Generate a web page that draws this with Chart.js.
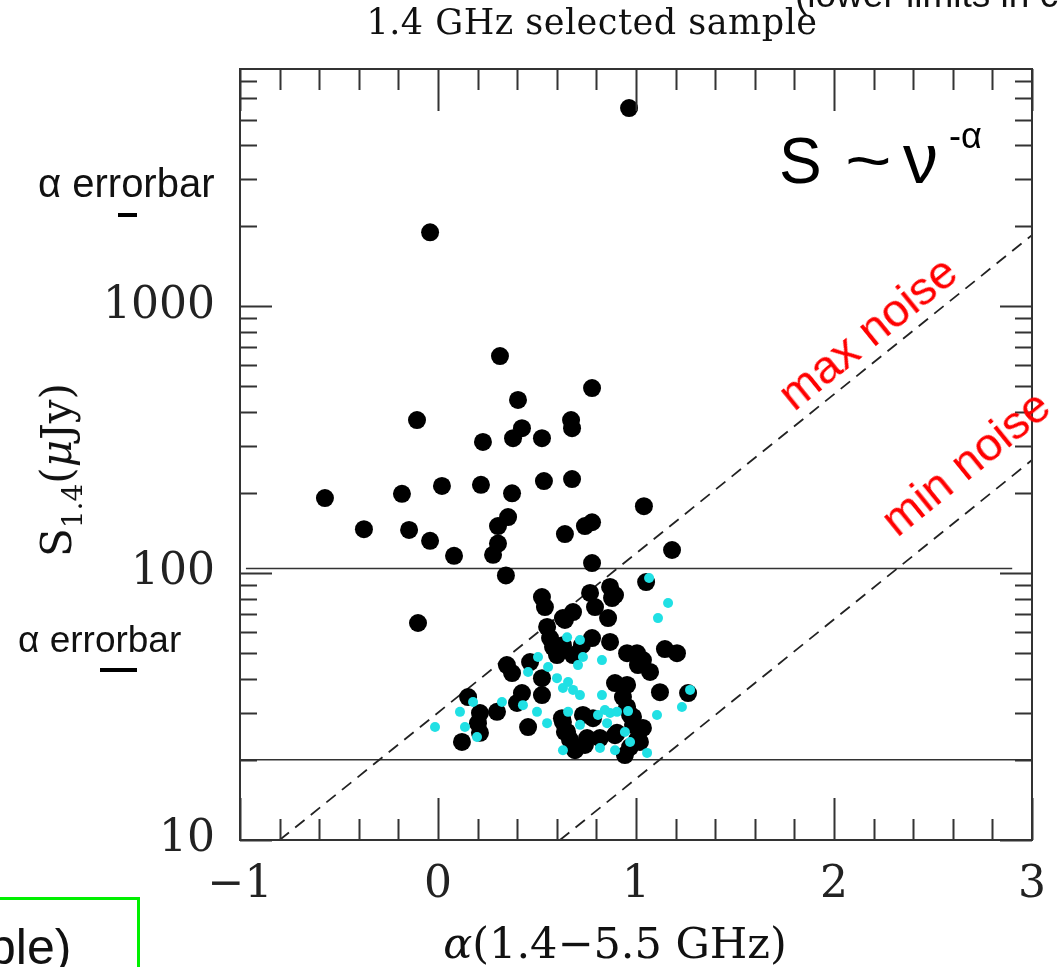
<!DOCTYPE html>
<html><head><meta charset="utf-8">
<script src="https://cdn.jsdelivr.net/npm/chart.js@4/dist/chart.umd.min.js"></script>
<style>
html,body{margin:0;padding:0;background:#fff;overflow:hidden;}
#wrap{position:relative;width:1058px;height:967px;overflow:hidden;}
#c{position:absolute;left:0;top:0;}
.t{position:absolute;white-space:nowrap;line-height:1;color:#111;}
.serif{font-family:"DejaVu Serif",serif;}
.sans{font-family:"Liberation Sans",Arial,sans-serif;}
.bar{position:absolute;background:#000;}
</style></head><body>
<div id="wrap">
<canvas id="c" width="1058" height="967"></canvas>
<div class="t serif" style="left:592px;top:22px;transform:translate(-50%,-50%);font-size:35px;letter-spacing:0.5px;">1.4 GHz selected sample</div>
<div class="t sans" style="left:795px;top:-24px;font-size:37px;">(lower limits in cyan)</div>
<div class="t sans" style="left:38px;top:163px;font-size:40px;">α errorbar</div>
<div class="bar" style="left:118px;top:213px;width:19px;height:4px;"></div>
<div class="t sans" style="left:18px;top:621px;font-size:37px;">α errorbar</div>
<div class="bar" style="left:100px;top:668px;width:37px;height:4px;"></div>
<div class="t sans" style="left:779px;top:129px;font-size:64px;color:#000;">S</div>
<div class="t sans" style="left:845px;top:129px;font-size:64px;color:#000;transform:scaleX(1.25);transform-origin:left;">~</div>
<div class="t sans" style="left:903px;top:124px;font-size:70px;color:#000;">ν</div>
<div class="t sans" style="left:949px;top:118px;font-size:36px;color:#000;">-α</div>
<div class="t sans" style="left:867px;top:332px;transform:translate(-50%,-50%) rotate(-39deg);font-size:47px;color:#ff0000;">max noise</div>
<div class="t sans" style="left:965px;top:462px;transform:translate(-50%,-50%) rotate(-39deg);font-size:47px;color:#ff0000;">min noise</div>
<div class="t serif" style="left:57px;top:470px;transform:translate(-50%,-50%) rotate(-90deg);font-size:42px;">S<span style="font-size:28px;position:relative;top:11px;">1.4</span>(<i>μ</i>Jy)</div>
<div class="t serif" style="left:615px;top:943px;transform:translate(-50%,-50%);font-size:43px;"><i>α</i>(1.4−5.5 GHz)</div>
<div style="position:absolute;left:-6px;top:897px;width:140px;height:120px;border:3px solid #00f000;"></div>
<div class="t sans" style="left:-12px;top:922px;font-size:50px;color:#111;">ple)</div>
</div>
<script>
// ---- data ----
const blackAlpha = [0.965,-0.040,0.313,0.778,0.404,-0.106,0.672,0.677,0.424,0.379,0.227,0.525,-0.571,-0.182,0.020,0.217,0.374,0.535,0.677,1.040,
  -0.374,-0.146,-0.040,0.081,0.354,0.303,0.303,0.278,0.641,0.742,0.778,1.182,0.778,0.343,1.051,0.525,0.540,0.768,0.869,0.793,
  0.879,-0.101,0.682,0.641,0.551,0.566,0.581,0.601,0.859,0.778,0.869,0.955,1.005,1.035,1.010,1.071,1.146,1.207,1.121,1.263,
  0.894,0.955,0.934,0.955,0.970,0.682,0.631,0.732,0.783,0.631,0.641,0.667,0.742,0.818,0.894,0.985,1.035,1.020,0.944,0.692,
  0.348,0.374,0.465,0.525,0.152,0.212,0.202,0.212,0.121,0.298,0.424,0.399,0.525,0.455,0.626,0.652,0.631,0.727,0.894,1.005,
  0.970,0.904,0.753,0.985];
const blackS = [5520,1890,650,493,445,374,374,349,349,320,310,320,191,198,212,214,199,221,225,178,
  146,145,132,116,162,150,129,117,140,150,155,122,109,98,92.5,81.3,74.6,84.2,88.7,74.6,
  80.6,65.0,71.4,66.7,62.8,57.1,52.8,49.3,67.8,57.1,55.2,50.1,50.1,47.2,45.2,42.6,51.9,50.1,35.8,35.5,
  38.7,38.1,34.3,31.5,29.4,49.3,53.7,29.4,28.6,27.7,25.4,23.7,22.7,24.1,24.7,27.0,26.3,23.3,20.8,21.7,
  45.2,42.2,46.4,40.4,34.3,29.9,27.4,25.2,23.3,30.2,35.5,32.6,34.9,26.5,28.6,25.4,67.8,53.7,82.7,23.7,
  22.3,25.2,24.1,28.9];
const cyanAlpha = [-0.015,0.111,0.177,0.136,0.197,0.323,0.505,0.455,0.556,0.601,0.631,0.652,0.500,0.551,0.631,0.429,
  1.066,1.162,1.111,0.717,0.732,0.707,0.828,0.657,0.682,0.717,0.828,0.657,0.843,0.869,0.904,0.960,0.808,1.106,1.232,
  0.717,0.854,0.944,0.970,0.818,0.894,1.056,1.273];
const cyanS = [26.5,30.2,32.9,26.5,24.3,32.9,48.5,42.6,44.5,40.4,37.1,57.5,30.2,27.4,21.7,32.0,
  95.8,77.2,67.8,56.1,48.5,45.2,47.2,39.1,36.5,34.9,34.9,30.2,30.7,29.9,30.2,30.4,29.4,29.4,31.5,
  27.0,27.4,25.4,23.3,22.1,21.7,21.2,36.5];
// noise limit lines (end points) and flux-cut lines
const maxNoiseAlpha = [-0.80, 3.0];
const maxNoiseS = [10, 1845];
const minNoiseAlpha = [0.616, 3.0];
const minNoiseS = [10, 265];
const upperCutAlpha = [-0.97, 2.9];
const upperCutS = [104, 104];
const lowerCutAlpha = [-1, 3];
const lowerCutS = [20, 20];
// axes
const xMin = -1, xMax = 3;
const yMin = 10, yMax = 7730;
const xTickValues = [-1, 0, 1, 2, 3];
const yTickValues = [10, 100, 1000];
const yTickLabels = ['10', '100', '1000'];

const pts = (a, s) => a.map((v, i) => ({x: v, y: s[i]}));

// frame + inward ticks on all four sides
const framePlugin = {
  id: 'frame',
  afterDatasetsDraw(chart) {
    const {ctx, chartArea: ca, scales: {x, y}} = chart;
    ctx.save();
    ctx.strokeStyle = '#333';
    ctx.lineWidth = 2;
    ctx.strokeRect(ca.left, ca.top, ca.right - ca.left, ca.bottom - ca.top);
    ctx.beginPath();
    for (let k = Math.round(xMin * 5); k <= Math.round(xMax * 5); k++) {
      const v = k / 5;
      const px = Math.round(x.getPixelForValue(v)) + 0.5;
      const len = (k % 5 === 0) ? 42 : 21;
      ctx.moveTo(px, ca.bottom); ctx.lineTo(px, ca.bottom - len);
      ctx.moveTo(px, ca.top); ctx.lineTo(px, ca.top + len);
    }
    for (let d = 10; d <= 1000; d *= 10) {
      for (let m = 1; m <= 9; m++) {
        const v = d * m;
        if (v < yMin || v > yMax) continue;
        const py = Math.round(y.getPixelForValue(v)) + 0.5;
        const len = (m === 1) ? 32 : 17;
        ctx.moveTo(ca.left, py); ctx.lineTo(ca.left + len, py);
        ctx.moveTo(ca.right, py); ctx.lineTo(ca.right - len, py);
      }
    }
    ctx.stroke();
    ctx.restore();
  }
};

const tickFont = {family: '"DejaVu Serif", serif', size: 44};
new Chart(document.getElementById('c'), {
  type: 'scatter',
  data: {
    datasets: [
      {data: pts(blackAlpha, blackS), backgroundColor: '#000', borderColor: '#000', pointRadius: 9, borderWidth: 0, order: 2},
      {data: pts(cyanAlpha, cyanS), backgroundColor: '#20e0e4', borderColor: '#20e0e4', pointRadius: 5, borderWidth: 0, order: 1},
      {type: 'line', data: pts(maxNoiseAlpha, maxNoiseS), borderColor: '#222', borderWidth: 1.8, borderDash: [12, 8], pointRadius: 0, order: 3},
      {type: 'line', data: pts(minNoiseAlpha, minNoiseS), borderColor: '#222', borderWidth: 1.8, borderDash: [12, 8], pointRadius: 0, order: 3},
      {type: 'line', data: pts(upperCutAlpha, upperCutS), borderColor: '#333', borderWidth: 1.5, pointRadius: 0, order: 3},
      {type: 'line', data: pts(lowerCutAlpha, lowerCutS), borderColor: '#333', borderWidth: 1.5, pointRadius: 0, order: 3}
    ]
  },
  options: {
    responsive: false,
    animation: false,
    devicePixelRatio: 1,
    layout: {padding: {left: 0, top: 69, right: 26, bottom: 0}},
    plugins: {legend: {display: false}, tooltip: {enabled: false}, title: {display: false}},
    scales: {
      x: {
        type: 'linear', min: xMin, max: xMax,
        grid: {display: false, drawTicks: false}, border: {display: false},
        afterBuildTicks: s => { s.ticks = xTickValues.map(v => ({value: v})); },
        afterFit: s => { s.height = 127; s.paddingLeft = 0; s.paddingRight = 0; },
        ticks: {font: tickFont, color: '#222', padding: 19, maxRotation: 0,
          callback: v => (v < 0 ? '−' + Math.abs(v) : String(v))}
      },
      y: {
        type: 'logarithmic', min: yMin, max: yMax,
        grid: {display: false, drawTicks: false}, border: {display: false},
        afterBuildTicks: s => { s.ticks = yTickValues.map(v => ({value: v})); },
        afterFit: s => { s.width = 240; s.paddingTop = 0; s.paddingBottom = 0; },
        ticks: {font: tickFont, color: '#222', padding: 25,
          callback: v => { const i = yTickValues.indexOf(v); return i >= 0 ? yTickLabels[i] : ''; }}
      }
    }
  },
  plugins: [framePlugin]
});
</script>
</body></html>
